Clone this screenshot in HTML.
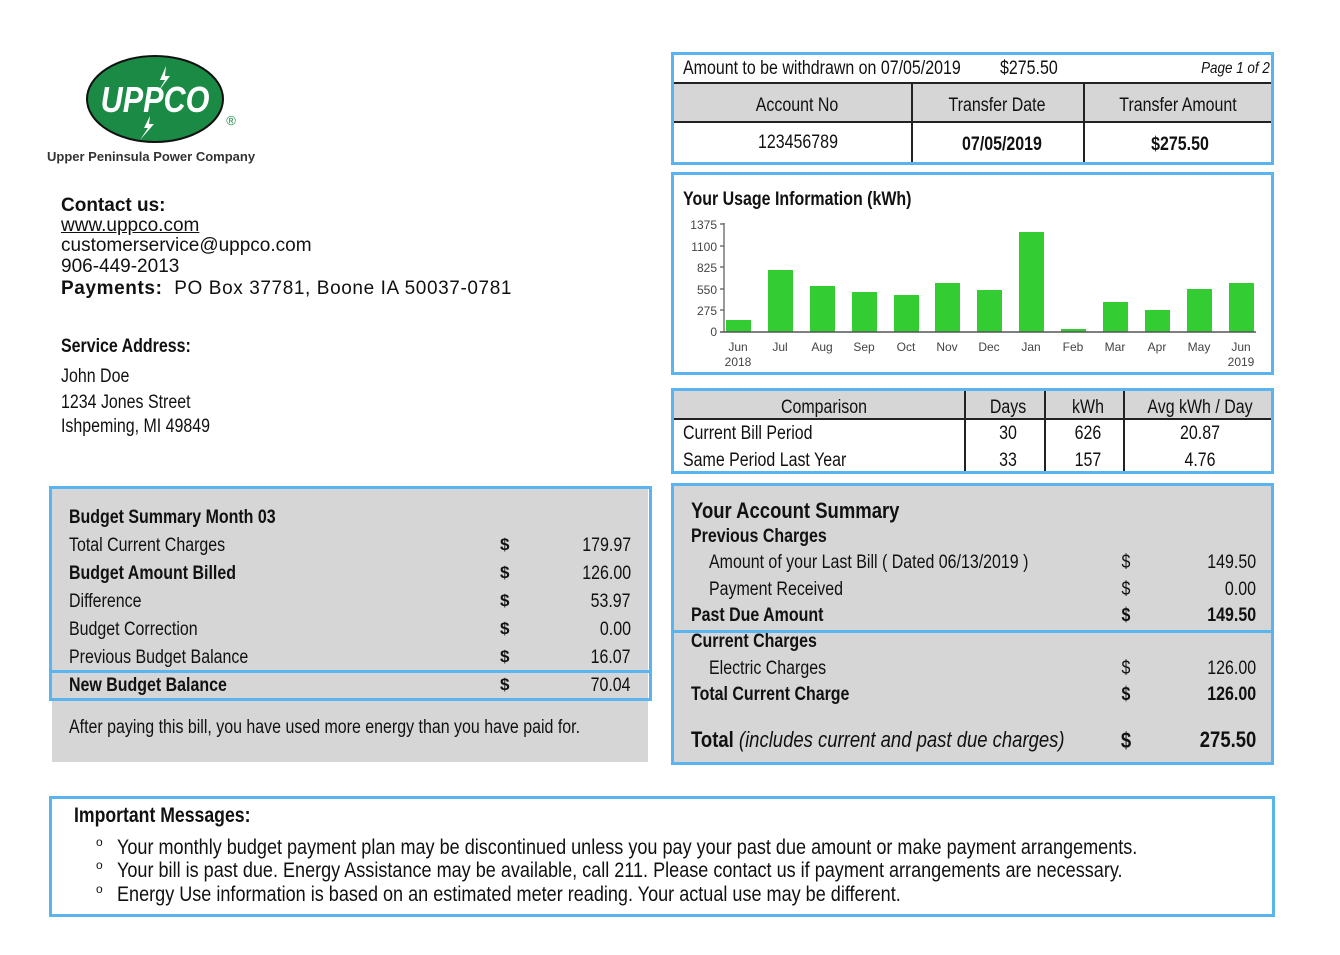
<!DOCTYPE html>
<html><head><meta charset="utf-8"><style>
body{margin:0;width:1340px;height:955px;background:#fff;position:relative;overflow:hidden;font-family:"Liberation Sans",Arial,sans-serif;color:#111}
.t{position:absolute;white-space:nowrap;line-height:1}
.n{transform:scaleX(.84);transform-origin:left center}
.nr{transform:scaleX(.84);transform-origin:right center;text-align:right}
.nc{transform:translateX(-50%) scaleX(.84);transform-origin:center}
.b{font-weight:bold}
.box{position:absolute;border:3px solid #5ab4f0;box-sizing:border-box}
.g{background:#d6d6d6}
.ln{position:absolute;background:#222}
</style></head><body>

<!-- logo -->
<svg style="position:absolute;left:0;top:0" width="300" height="180">
<ellipse cx="155" cy="99" rx="68" ry="43" fill="#1a8a45" stroke="#111" stroke-width="2"/>
<text x="155" y="112" text-anchor="middle" font-family="Liberation Sans" font-weight="bold" font-style="italic" font-size="36" fill="#fff" transform="translate(155 0) scale(0.85 1) translate(-155 0)">UPPCO</text>
<polygon points="166,66 160,80 165,80 158,92 170,76 165,76" fill="#fff"/>
<polygon points="150,116 144,128 148,128 140,140 154,124 149,124" fill="#fff"/>
<text x="231" y="125" text-anchor="middle" font-family="Liberation Sans" font-size="13" fill="#1a8a45">®</text>
</svg>
<div class="t b" style="left:47px;top:150px;font-size:13px;color:#333">Upper Peninsula Power Company</div>

<div class="t b" style="left:61px;top:196px;font-size:19px">Contact us:</div>
<div class="t" style="left:61px;top:216px;font-size:19px;text-decoration:underline">www.uppco.com</div>
<div class="t" style="left:61px;top:236px;font-size:19px">customerservice@uppco.com</div>
<div class="t" style="left:61px;top:257px;font-size:19px">906-449-2013</div>
<div class="t b" style="left:61px;top:279px;font-size:19px;letter-spacing:0.6px">Payments:&nbsp; <span style="font-weight:normal">PO Box 37781, Boone IA 50037-0781</span></div>

<div class="t b n" style="left:61px;top:337px;font-size:19px">Service Address:</div>
<div class="t n" style="left:61px;top:367px;font-size:19px">John Doe</div>
<div class="t n" style="left:61px;top:393px;font-size:19px">1234 Jones Street</div>
<div class="t n" style="left:61px;top:417px;font-size:19px">Ishpeming, MI 49849</div>

<!-- top box -->
<div class="box" style="left:671px;top:52px;width:603px;height:113px"></div>
<div class="g" style="position:absolute;left:674px;top:83px;width:597px;height:38px"></div>
<div class="ln" style="left:674px;top:82px;width:597px;height:2px"></div>
<div class="ln" style="left:674px;top:121px;width:597px;height:2px"></div>
<div class="ln" style="left:911px;top:83px;width:2px;height:79px"></div>
<div class="ln" style="left:1083px;top:83px;width:2px;height:79px"></div>
<div class="t n" style="left:683px;top:59px;font-size:19px">Amount to be withdrawn on 07/05/2019</div>
<div class="t n" style="left:1000px;top:59px;font-size:19px">$275.50</div>
<div class="t nr" style="right:70px;top:61px;font-size:16px;font-style:italic">Page 1 of 2</div>
<div class="t nc" style="left:797px;top:96px;font-size:19px">Account No</div>
<div class="t nc" style="left:997px;top:96px;font-size:19px">Transfer Date</div>
<div class="t nc" style="left:1178px;top:96px;font-size:19px">Transfer Amount</div>
<div class="t nc" style="left:798px;top:133px;font-size:19px">123456789</div>
<div class="t nc b" style="left:1002px;top:135px;font-size:19px">07/05/2019</div>
<div class="t nc b" style="left:1180px;top:135px;font-size:19px">$275.50</div>

<!-- usage -->
<div class="box" style="left:671px;top:172px;width:603px;height:203px"></div>
<div class="t b n" style="left:683px;top:190px;font-size:19px">Your Usage Information (kWh)</div>
<svg style="position:absolute;left:674px;top:175px" width="597" height="197">
<g font-family="Liberation Sans" font-size="12" fill="#444" text-anchor="end">
<text x="43" y="54">1375</text><text x="43" y="76">1100</text><text x="43" y="97">825</text>
<text x="43" y="119">550</text><text x="43" y="140">275</text><text x="43" y="161">0</text>
</g>
<g stroke="#555" stroke-width="1.2">
<line x1="50" y1="48" x2="50" y2="157"/>
<line x1="46" y1="49" x2="50" y2="49"/><line x1="46" y1="71" x2="50" y2="71"/><line x1="46" y1="92" x2="50" y2="92"/><line x1="46" y1="114" x2="50" y2="114"/><line x1="46" y1="135" x2="50" y2="135"/>
</g>
<g fill="#33cc33">
<rect x="52" y="145" width="25" height="12"/>
<rect x="94" y="95" width="25" height="62"/>
<rect x="136" y="111" width="25" height="46"/>
<rect x="178" y="117" width="25" height="40"/>
<rect x="220" y="120" width="25" height="37"/>
<rect x="261" y="108" width="25" height="49"/>
<rect x="303" y="115" width="25" height="42"/>
<rect x="345" y="57" width="25" height="100"/>
<rect x="387" y="154" width="25" height="3"/>
<rect x="429" y="127" width="25" height="30"/>
<rect x="471" y="135" width="25" height="22"/>
<rect x="513" y="114" width="25" height="43"/>
<rect x="555" y="108" width="25" height="49"/>
</g>
<line x1="46" y1="157" x2="582" y2="157" stroke="#555" stroke-width="1.5"/>
<g font-family="Liberation Sans" font-size="12" fill="#444" text-anchor="middle">
<text x="64" y="176">Jun</text><text x="106" y="176">Jul</text><text x="148" y="176">Aug</text><text x="190" y="176">Sep</text><text x="232" y="176">Oct</text><text x="273" y="176">Nov</text><text x="315" y="176">Dec</text><text x="357" y="176">Jan</text><text x="399" y="176">Feb</text><text x="441" y="176">Mar</text><text x="483" y="176">Apr</text><text x="525" y="176">May</text><text x="567" y="176">Jun</text>
<text x="64" y="191">2018</text><text x="567" y="191">2019</text>
</g>
</svg>

<!-- comparison -->
<div class="box" style="left:671px;top:388px;width:603px;height:86px"></div>
<div class="g" style="position:absolute;left:674px;top:391px;width:597px;height:27px"></div>
<div class="ln" style="left:674px;top:418px;width:597px;height:2px"></div>
<div class="ln" style="left:964px;top:391px;width:2px;height:80px"></div>
<div class="ln" style="left:1044px;top:391px;width:2px;height:80px"></div>
<div class="ln" style="left:1123px;top:391px;width:2px;height:80px"></div>
<div class="t nc" style="left:824px;top:398px;font-size:19px">Comparison</div>
<div class="t nc" style="left:1008px;top:398px;font-size:19px">Days</div>
<div class="t nc" style="left:1088px;top:398px;font-size:19px">kWh</div>
<div class="t nc" style="left:1200px;top:398px;font-size:19px">Avg kWh / Day</div>
<div class="t n" style="left:683px;top:424px;font-size:19px">Current Bill Period</div>
<div class="t n" style="left:683px;top:451px;font-size:19px">Same Period Last Year</div>
<div class="t nc" style="left:1008px;top:424px;font-size:19px">30</div>
<div class="t nc" style="left:1008px;top:451px;font-size:19px">33</div>
<div class="t nc" style="left:1088px;top:424px;font-size:19px">626</div>
<div class="t nc" style="left:1088px;top:451px;font-size:19px">157</div>
<div class="t nc" style="left:1200px;top:424px;font-size:19px">20.87</div>
<div class="t nc" style="left:1200px;top:451px;font-size:19px">4.76</div>

<!-- account summary -->
<div class="box g" style="left:671px;top:483px;width:603px;height:282px"></div>
<div style="position:absolute;left:671px;top:630px;width:603px;height:3px;background:#5ab4f0"></div>
<div class="t b n" style="left:691px;top:500px;font-size:22px">Your Account Summary</div>
<div class="t b n" style="left:691px;top:527px;font-size:19px">Previous Charges</div>
<div class="t n" style="left:709px;top:553px;font-size:19px">Amount of your Last Bill ( Dated 06/13/2019 )</div>
<div class="t n" style="left:709px;top:580px;font-size:19px">Payment Received</div>
<div class="t b n" style="left:691px;top:606px;font-size:19px">Past Due Amount</div>
<div class="t b n" style="left:691px;top:632px;font-size:19px">Current Charges</div>
<div class="t n" style="left:709px;top:659px;font-size:19px">Electric Charges</div>
<div class="t b n" style="left:691px;top:685px;font-size:19px">Total Current Charge</div>
<div class="t n" style="left:691px;top:729px;font-size:22px"><b>Total</b> <i>(includes current and past due charges)</i></div>
<div class="t nc" style="left:1126px;top:553px;font-size:19px">$</div>
<div class="t nc" style="left:1126px;top:580px;font-size:19px">$</div>
<div class="t nc b" style="left:1126px;top:606px;font-size:19px">$</div>
<div class="t nc" style="left:1126px;top:659px;font-size:19px">$</div>
<div class="t nc b" style="left:1126px;top:685px;font-size:19px">$</div>
<div class="t nc b" style="left:1126px;top:730px;font-size:22px">$</div>
<div class="t nr" style="right:84px;top:553px;font-size:19px">149.50</div>
<div class="t nr" style="right:84px;top:580px;font-size:19px">0.00</div>
<div class="t nr b" style="right:84px;top:606px;font-size:19px">149.50</div>
<div class="t nr" style="right:84px;top:659px;font-size:19px">126.00</div>
<div class="t nr b" style="right:84px;top:685px;font-size:19px">126.00</div>
<div class="t nr b" style="right:84px;top:729px;font-size:22px">275.50</div>

<!-- budget -->
<div class="g" style="position:absolute;left:52px;top:488px;width:596px;height:274px"></div>
<div class="box" style="left:49px;top:486px;width:603px;height:187px"></div>
<div class="box" style="left:49px;top:670px;width:603px;height:31px"></div>
<div class="t b n" style="left:69px;top:508px;font-size:19px">Budget Summary Month 03</div>
<div class="t n" style="left:69px;top:536px;font-size:19px">Total Current Charges</div>
<div class="t b n" style="left:69px;top:564px;font-size:19px">Budget Amount Billed</div>
<div class="t n" style="left:69px;top:592px;font-size:19px">Difference</div>
<div class="t n" style="left:69px;top:620px;font-size:19px">Budget Correction</div>
<div class="t n" style="left:69px;top:648px;font-size:19px">Previous Budget Balance</div>
<div class="t b n" style="left:69px;top:676px;font-size:19px">New Budget Balance</div>
<div class="t b" style="left:500px;top:536px;font-size:17px">$</div>
<div class="t b" style="left:500px;top:564px;font-size:17px">$</div>
<div class="t b" style="left:500px;top:592px;font-size:17px">$</div>
<div class="t b" style="left:500px;top:620px;font-size:17px">$</div>
<div class="t b" style="left:500px;top:648px;font-size:17px">$</div>
<div class="t b" style="left:500px;top:676px;font-size:17px">$</div>
<div class="t nr" style="right:709px;top:536px;font-size:19px">179.97</div>
<div class="t nr" style="right:709px;top:564px;font-size:19px">126.00</div>
<div class="t nr" style="right:709px;top:592px;font-size:19px">53.97</div>
<div class="t nr" style="right:709px;top:620px;font-size:19px">0.00</div>
<div class="t nr" style="right:709px;top:648px;font-size:19px">16.07</div>
<div class="t nr" style="right:709px;top:676px;font-size:19px">70.04</div>
<div class="t n" style="left:69px;top:718px;font-size:19px">After paying this bill, you have used more energy than you have paid for.</div>

<!-- messages -->
<div class="box" style="left:49px;top:796px;width:1226px;height:121px"></div>
<div class="t b n" style="left:74px;top:805px;font-size:21px">Important Messages:</div>
<div class="t" style="left:96px;top:836px;font-size:12px">o</div>
<div class="t" style="left:96px;top:859px;font-size:12px">o</div>
<div class="t" style="left:96px;top:883px;font-size:12px">o</div>
<div class="t" style="left:117px;top:837px;font-size:21px;transform:scaleX(.86);transform-origin:left center">Your monthly budget payment plan may be discontinued unless you pay your past due amount or make payment arrangements.</div>
<div class="t" style="left:117px;top:860px;font-size:21px;transform:scaleX(.86);transform-origin:left center">Your bill is past due. Energy Assistance may be available, call 211. Please contact us if payment arrangements are necessary.</div>
<div class="t" style="left:117px;top:884px;font-size:21px;transform:scaleX(.86);transform-origin:left center">Energy Use information is based on an estimated meter reading. Your actual use may be different.</div>
</body></html>
